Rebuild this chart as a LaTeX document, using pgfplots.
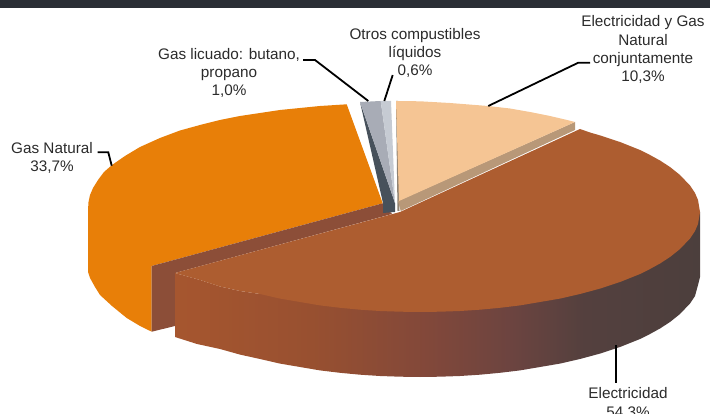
\documentclass[border=0pt]{standalone}
\usepackage{pgfplots}
\pgfplotsset{compat=1.18}
\usepackage{fontspec}
\setmainfont{Liberation Sans}
\definecolor{txt}{HTML}{2B2B2B}
\definecolor{bar}{HTML}{2A2E35}
\definecolor{orng}{HTML}{E87F08}
\definecolor{cutf}{HTML}{8C4E38}
\definecolor{dgrey}{HTML}{47515B}
\definecolor{grey}{HTML}{A8ACB6}
\definecolor{lgrey}{HTML}{C6CBD3}
\definecolor{lightt}{HTML}{F5C594}
\definecolor{lights}{HTML}{B89878}
\definecolor{lighte}{HTML}{8F8272}
\definecolor{elec}{HTML}{AD5D30}
\definecolor{sa}{RGB}{166,86,47}
\definecolor{sb}{RGB}{152,80,48}
\definecolor{sc}{RGB}{130,72,58}
\definecolor{sd}{RGB}{108,68,64}
\definecolor{se}{RGB}{84,64,62}
\definecolor{sf}{RGB}{76,63,61}
\pgfdeclarehorizontalshading{elecside}{100bp}{
  color(0bp)=(sa);
  color(25bp)=(sa);
  color(38bp)=(sb);
  color(49bp)=(sc);
  color(57bp)=(sd);
  color(64bp)=(se);
  color(75bp)=(sf);
  color(100bp)=(sf)}
\tikzset{lbl/.style={font=\fontsize{15.3}{18.4}\selectfont, text=txt, align=center, anchor=base, inner sep=0pt}}
\begin{document}
\begin{tikzpicture}
\clip[use as bounding box] (0,0) rectangle (710pt,414pt);
\begin{axis}[
  at={(0,0)}, anchor=south west,
  scale only axis, width=710pt, height=414pt,
  xmin=0, xmax=710, ymin=0, ymax=414, y dir=reverse,
  hide axis, no markers, clip=true,
  every axis plot/.append style={forget plot},
]
% top band
\addplot[fill=bar, draw=none] coordinates {(0,0) (710,0) (710,8.5) (0,8.5)};
% Gas Natural: top and side
\addplot[fill=orng, draw=none] coordinates {
 (346.7,104.3) (320,106) (300,108) (280,110) (260,113) (240,116) (220,120) (200,125) (180,130.5)
 (160,138) (140,147) (125,156) (112,165) (104,172) (98,180) (93,188) (90,195) (88.5,202) (88,210)
 (88,272) (90,278) (95,287) (100,295) (112,306) (126.7,318) (140,326) (151.7,331.7)
 (151.7,266) (382.7,203.3)};
\addplot[fill=cutf, draw=none] coordinates {
 (382.7,203.3) (151.7,266) (151.7,331.7) (175,326) (175,273) (392,214)};
% Gas licuado and Otros
\addplot[fill=dgrey, draw=none] coordinates {(360,102) (383,203) (383,213) (395,212) (395,203)};
\addplot[fill=grey, draw=none] coordinates {(360,102) (380.7,101) (395,203)};
\addplot[fill=lgrey, draw=none] coordinates {(380.7,101) (391,101) (395,203)};
% Electricidad y Gas
\addplot[fill=lighte, draw=none] coordinates {(396,101) (398,101) (399.5,211) (397.5,211)};
\addplot[fill=lights, draw=none] coordinates {(575,122) (575,130) (400.7,211) (398,201)};
\addplot[fill=lightt, draw=none] coordinates {
 (396,101) (420,101.3) (450,103) (488,106) (510,108.5) (530,112) (550,116) (565,119.5) (575,122) (399,201)};
% Electricidad: side
\addplot[shading=elecside, draw=none] coordinates {
 (175,273) (200,280) (220,286.5) (240,291) (260,294) (700,212) (700,277)
 (698,285) (695,296) (690,303.5) (680,314) (670,322) (660,328.5) (650,334) (640,339) (620,347)
 (600,353.6) (580,359) (560,363.6) (540,367) (520,370.4) (500,372.8) (480,374.7) (460,376)
 (440,376.7) (420,377) (400,376.7) (380,376) (360,374.7) (340,372.8) (320,370.4) (300,367)
 (280,363.6) (260,359) (240,354.6) (220,349) (197,344) (175,337)};
% Electricidad: top
\addplot[fill=elec, draw=none] coordinates {
 (175,273) (400,212) (580,129) (590,132.5) (600,135.4) (620,142) (640,150) (650,155) (660,160.5)
 (670,167) (680,175) (690,185.5) (695,193) (698,200) (700,212) (698,224) (695,231) (690,238.5) (680,249) (670,257)
 (660,263.5) (650,269) (640,274) (620,282) (600,288.6) (580,294) (560,298.6) (540,302) (520,305.4)
 (500,307.8) (480,309.7) (460,311) (440,311.7) (420,312) (400,311.7) (380,311) (360,309.7) (340,307.8)
 (320,305.4) (300,302) (280,298.6) (260,294) (240,291) (220,286.5) (200,280)};
% leader lines
\addplot[black, line width=1.8pt] coordinates {(488.3,106) (578.3,62.7) (590,62.7)};
\addplot[black, line width=1.8pt] coordinates {(384.3,101) (392.7,75)};
\addplot[black, line width=1.8pt] coordinates {(368.3,101) (315,60) (303,60)};
\addplot[black, line width=1.8pt] coordinates {(97.7,152.3) (108.3,152.3) (111.7,165.7)};
\addplot[black, line width=1.8pt] coordinates {(616,345) (616,383)};
% labels
\node[lbl] at (axis cs:415,76) {Otros compustibles\\líquidos\\0,6\%};
\node[lbl] at (axis cs:643,82) {Electricidad y Gas\\Natural\\conjuntamente\\10,3\%};
\node[lbl] at (axis cs:229,96) {Gas licuado: butano,\\propano\\1,0\%};
\node[lbl] at (axis cs:52,171.5) {Gas Natural\\33,7\%};
\node[lbl] at (axis cs:628,417) {Electricidad\\54,3\%};
\end{axis}
\end{tikzpicture}
\end{document}
